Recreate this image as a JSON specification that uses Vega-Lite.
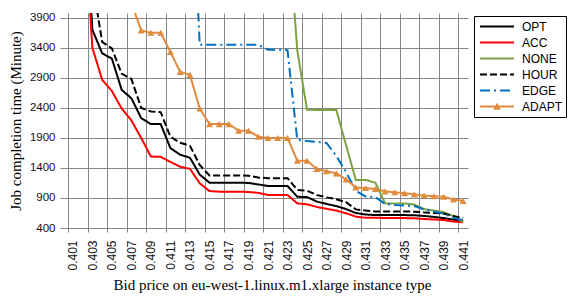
{
  "$schema": "https://vega.github.io/schema/vega-lite/v6.json",
  "width": 400,
  "height": 215,
  "autosize": {"type": "none"},
  "padding": {"left": 68, "top": 13, "right": 108, "bottom": 77},
  "background": "white",
  "config": {"view": {"stroke": null}},
  "data": {"values": [
    {"price":0.401,"series":"OPT","time":10000},{"price":0.402,"series":"OPT","time":6500},{"price":0.403,"series":"OPT","time":3700},{"price":0.404,"series":"OPT","time":3310},{"price":0.405,"series":"OPT","time":3220},{"price":0.406,"series":"OPT","time":2700},{"price":0.407,"series":"OPT","time":2560},{"price":0.408,"series":"OPT","time":2230},{"price":0.409,"series":"OPT","time":2130},{"price":0.410,"series":"OPT","time":2130},{"price":0.411,"series":"OPT","time":1730},{"price":0.412,"series":"OPT","time":1620},{"price":0.413,"series":"OPT","time":1570},{"price":0.414,"series":"OPT","time":1290},{"price":0.415,"series":"OPT","time":1155},{"price":0.416,"series":"OPT","time":1155},{"price":0.417,"series":"OPT","time":1155},{"price":0.418,"series":"OPT","time":1155},{"price":0.419,"series":"OPT","time":1150},{"price":0.420,"series":"OPT","time":1125},{"price":0.421,"series":"OPT","time":1100},{"price":0.422,"series":"OPT","time":1100},{"price":0.423,"series":"OPT","time":1100},{"price":0.424,"series":"OPT","time":920},{"price":0.425,"series":"OPT","time":915},{"price":0.426,"series":"OPT","time":840},{"price":0.427,"series":"OPT","time":800},{"price":0.428,"series":"OPT","time":765},{"price":0.429,"series":"OPT","time":715},{"price":0.430,"series":"OPT","time":650},{"price":0.431,"series":"OPT","time":625},{"price":0.432,"series":"OPT","time":615},{"price":0.433,"series":"OPT","time":615},{"price":0.434,"series":"OPT","time":615},{"price":0.435,"series":"OPT","time":615},{"price":0.436,"series":"OPT","time":612},{"price":0.437,"series":"OPT","time":600},{"price":0.438,"series":"OPT","time":585},{"price":0.439,"series":"OPT","time":565},{"price":0.440,"series":"OPT","time":540},{"price":0.441,"series":"OPT","time":520},
    {"price":0.401,"series":"ACC","time":9000},{"price":0.402,"series":"ACC","time":6000},{"price":0.403,"series":"ACC","time":3400},{"price":0.404,"series":"ACC","time":2870},{"price":0.405,"series":"ACC","time":2680},{"price":0.406,"series":"ACC","time":2390},{"price":0.407,"series":"ACC","time":2190},{"price":0.408,"series":"ACC","time":1900},{"price":0.409,"series":"ACC","time":1590},{"price":0.410,"series":"ACC","time":1585},{"price":0.411,"series":"ACC","time":1500},{"price":0.412,"series":"ACC","time":1420},{"price":0.413,"series":"ACC","time":1385},{"price":0.414,"series":"ACC","time":1145},{"price":0.415,"series":"ACC","time":1015},{"price":0.416,"series":"ACC","time":1005},{"price":0.417,"series":"ACC","time":1005},{"price":0.418,"series":"ACC","time":1005},{"price":0.419,"series":"ACC","time":1000},{"price":0.420,"series":"ACC","time":985},{"price":0.421,"series":"ACC","time":950},{"price":0.422,"series":"ACC","time":950},{"price":0.423,"series":"ACC","time":950},{"price":0.424,"series":"ACC","time":810},{"price":0.425,"series":"ACC","time":795},{"price":0.426,"series":"ACC","time":750},{"price":0.427,"series":"ACC","time":720},{"price":0.428,"series":"ACC","time":690},{"price":0.429,"series":"ACC","time":645},{"price":0.430,"series":"ACC","time":590},{"price":0.431,"series":"ACC","time":570},{"price":0.432,"series":"ACC","time":570},{"price":0.433,"series":"ACC","time":567},{"price":0.434,"series":"ACC","time":567},{"price":0.435,"series":"ACC","time":565},{"price":0.436,"series":"ACC","time":562},{"price":0.437,"series":"ACC","time":550},{"price":0.438,"series":"ACC","time":542},{"price":0.439,"series":"ACC","time":533},{"price":0.440,"series":"ACC","time":508},{"price":0.441,"series":"ACC","time":495},
    {"price":0.423,"series":"NONE","time":5600},{"price":0.424,"series":"NONE","time":3360},{"price":0.425,"series":"NONE","time":2370},{"price":0.426,"series":"NONE","time":2365},{"price":0.427,"series":"NONE","time":2365},{"price":0.428,"series":"NONE","time":2365},{"price":0.429,"series":"NONE","time":1780},{"price":0.430,"series":"NONE","time":1200},{"price":0.431,"series":"NONE","time":1200},{"price":0.432,"series":"NONE","time":1155},{"price":0.433,"series":"NONE","time":810},{"price":0.434,"series":"NONE","time":810},{"price":0.435,"series":"NONE","time":810},{"price":0.436,"series":"NONE","time":790},{"price":0.437,"series":"NONE","time":715},{"price":0.438,"series":"NONE","time":690},{"price":0.439,"series":"NONE","time":665},{"price":0.440,"series":"NONE","time":600},{"price":0.441,"series":"NONE","time":500},
    {"price":0.401,"series":"HOUR","time":11000},{"price":0.402,"series":"HOUR","time":7500},{"price":0.403,"series":"HOUR","time":4500},{"price":0.404,"series":"HOUR","time":3500},{"price":0.405,"series":"HOUR","time":3390},{"price":0.406,"series":"HOUR","time":2970},{"price":0.407,"series":"HOUR","time":2880},{"price":0.408,"series":"HOUR","time":2400},{"price":0.409,"series":"HOUR","time":2340},{"price":0.410,"series":"HOUR","time":2330},{"price":0.411,"series":"HOUR","time":1920},{"price":0.412,"series":"HOUR","time":1820},{"price":0.413,"series":"HOUR","time":1770},{"price":0.414,"series":"HOUR","time":1450},{"price":0.415,"series":"HOUR","time":1275},{"price":0.416,"series":"HOUR","time":1275},{"price":0.417,"series":"HOUR","time":1275},{"price":0.418,"series":"HOUR","time":1275},{"price":0.419,"series":"HOUR","time":1270},{"price":0.420,"series":"HOUR","time":1240},{"price":0.421,"series":"HOUR","time":1230},{"price":0.422,"series":"HOUR","time":1230},{"price":0.423,"series":"HOUR","time":1230},{"price":0.424,"series":"HOUR","time":1035},{"price":0.425,"series":"HOUR","time":1020},{"price":0.426,"series":"HOUR","time":950},{"price":0.427,"series":"HOUR","time":910},{"price":0.428,"series":"HOUR","time":880},{"price":0.429,"series":"HOUR","time":830},{"price":0.430,"series":"HOUR","time":710},{"price":0.431,"series":"HOUR","time":690},{"price":0.432,"series":"HOUR","time":675},{"price":0.433,"series":"HOUR","time":675},{"price":0.434,"series":"HOUR","time":675},{"price":0.435,"series":"HOUR","time":675},{"price":0.436,"series":"HOUR","time":672},{"price":0.437,"series":"HOUR","time":660},{"price":0.438,"series":"HOUR","time":650},{"price":0.439,"series":"HOUR","time":640},{"price":0.440,"series":"HOUR","time":600},{"price":0.441,"series":"HOUR","time":560},
    {"price":0.413,"series":"EDGE","time":7000},{"price":0.414,"series":"EDGE","time":3450},{"price":0.415,"series":"EDGE","time":3450},{"price":0.416,"series":"EDGE","time":3450},{"price":0.417,"series":"EDGE","time":3450},{"price":0.418,"series":"EDGE","time":3450},{"price":0.419,"series":"EDGE","time":3450},{"price":0.420,"series":"EDGE","time":3450},{"price":0.421,"series":"EDGE","time":3370},{"price":0.422,"series":"EDGE","time":3370},{"price":0.423,"series":"EDGE","time":3360},{"price":0.424,"series":"EDGE","time":1870},{"price":0.425,"series":"EDGE","time":1850},{"price":0.426,"series":"EDGE","time":1835},{"price":0.427,"series":"EDGE","time":1815},{"price":0.428,"series":"EDGE","time":1600},{"price":0.429,"series":"EDGE","time":1330},{"price":0.430,"series":"EDGE","time":1020},{"price":0.431,"series":"EDGE","time":925},{"price":0.432,"series":"EDGE","time":915},{"price":0.433,"series":"EDGE","time":800},{"price":0.434,"series":"EDGE","time":785},{"price":0.435,"series":"EDGE","time":775},{"price":0.436,"series":"EDGE","time":765},{"price":0.437,"series":"EDGE","time":710},{"price":0.438,"series":"EDGE","time":675},{"price":0.439,"series":"EDGE","time":640},{"price":0.440,"series":"EDGE","time":570},{"price":0.441,"series":"EDGE","time":530},
    {"price":0.407,"series":"ADAPT","time":4150},{"price":0.408,"series":"ADAPT","time":3690},{"price":0.409,"series":"ADAPT","time":3650},{"price":0.410,"series":"ADAPT","time":3650},{"price":0.411,"series":"ADAPT","time":3330},{"price":0.412,"series":"ADAPT","time":3000},{"price":0.413,"series":"ADAPT","time":2950},{"price":0.414,"series":"ADAPT","time":2390},{"price":0.415,"series":"ADAPT","time":2130},{"price":0.416,"series":"ADAPT","time":2130},{"price":0.417,"series":"ADAPT","time":2130},{"price":0.418,"series":"ADAPT","time":2020},{"price":0.419,"series":"ADAPT","time":2020},{"price":0.420,"series":"ADAPT","time":1920},{"price":0.421,"series":"ADAPT","time":1900},{"price":0.422,"series":"ADAPT","time":1900},{"price":0.423,"series":"ADAPT","time":1900},{"price":0.424,"series":"ADAPT","time":1520},{"price":0.425,"series":"ADAPT","time":1520},{"price":0.426,"series":"ADAPT","time":1385},{"price":0.427,"series":"ADAPT","time":1345},{"price":0.428,"series":"ADAPT","time":1310},{"price":0.429,"series":"ADAPT","time":1210},{"price":0.430,"series":"ADAPT","time":1075},{"price":0.431,"series":"ADAPT","time":1065},{"price":0.432,"series":"ADAPT","time":1050},{"price":0.433,"series":"ADAPT","time":1010},{"price":0.434,"series":"ADAPT","time":995},{"price":0.435,"series":"ADAPT","time":980},{"price":0.436,"series":"ADAPT","time":960},{"price":0.437,"series":"ADAPT","time":940},{"price":0.438,"series":"ADAPT","time":930},{"price":0.439,"series":"ADAPT","time":920},{"price":0.440,"series":"ADAPT","time":875},{"price":0.441,"series":"ADAPT","time":850}
  ]},
  "encoding": {
    "x": {
      "field": "price", "type": "quantitative",
      "scale": {"domain": [0.4005, 0.4415], "nice": false, "zero": false},
      "axis": {
        "values": [0.4005,0.4025,0.4045,0.4065,0.4085,0.4105,0.4125,0.4145,0.4165,0.4185,0.4205,0.4225,0.4245,0.4265,0.4285,0.4305,0.4325,0.4345,0.4365,0.4385,0.4405],
        "labelExpr": "format(datum.value + 0.0005, '.3f')",
        "labelAngle": -90, "labelOffset": 4.9, "labelPadding": 8, "labelFlush": false, "labelOverlap": false,
        "labelFont": "Liberation Sans", "labelFontSize": 12, "labelColor": "#111111",
        "tickSize": 4, "tickColor": "#868686", "domainColor": "#868686", "grid": true, "gridColor": "#868686", "gridWidth": 1,
        "title": "Bid price on eu-west-1.linux.m1.xlarge instance type",
        "titleFont": "Liberation Serif", "titleFontSize": 15, "titleFontWeight": "normal", "titleColor": "#000000", "titlePadding": 7, "titleX": 204
      }
    },
    "y": {
      "field": "time", "type": "quantitative",
      "scale": {"domain": [400, 3980], "nice": false, "zero": false},
      "axis": {
        "values": [400,900,1400,1900,2400,2900,3400,3900], "format": "d",
        "labelFont": "Liberation Sans", "labelFontSize": 11.5, "labelColor": "#111111", "labelPadding": 5, "labelFlush": false,
        "tickSize": 8, "tickColor": "#868686", "domainColor": "#868686", "grid": true, "gridColor": "#868686", "gridWidth": 1,
        "title": "Job completion time (Minute)",
        "titleFont": "Liberation Serif", "titleFontSize": 15, "titleFontWeight": "normal", "titleColor": "#000000", "titlePadding": 6
      }
    }
  },
  "layer": [
    {
      "mark": {"type": "line", "clip": true, "strokeWidth": 2},
      "encoding": {
        "color": {
          "field": "series", "type": "nominal",
          "scale": {"domain": ["OPT","ACC","NONE","HOUR","EDGE","ADAPT"], "range": ["#000000","#FF0000","#7AA43F","#000000","#0070C0","#E08A3C"]},
          "legend": {
            "orient": "none", "legendX": 406, "legendY": 3, "title": null,
            "symbolType": "M-1,0H3", "symbolSize": 289, "symbolStrokeWidth": 2,
            "labelFont": "Liberation Sans", "labelFontSize": 12, "labelColor": "#000000",
            "padding": 3, "symbolOffset": 2, "labelOffset": 24, "clipHeight": 15, "rowPadding": 1,
            "strokeColor": "#000000", "fillColor": "#ffffff",
            "encoding": {"symbols": {
              "shape": {"value": {"expr": "datum.value === 'ADAPT' ? 'M-1,0H3M0.75,0.25L1,-0.2L1.25,0.25Z' : 'M-1,0H3'"}},
              "fill": {"value": "#E08A3C"}
            }}
          }
        },
        "strokeDash": {
          "field": "series", "type": "nominal",
          "scale": {"domain": ["OPT","ACC","NONE","HOUR","EDGE","ADAPT"], "range": [[1,0],[1,0],[1,0],[7,3],[10,4,2,4],[1,0]]}
        }
      }
    },
    {
      "transform": [{"filter": "datum.series === 'ADAPT'"}],
      "mark": {"type": "point", "shape": "triangle-up", "filled": true, "size": 49, "color": "#E08A3C", "opacity": 1, "clip": true}
    }
  ]
}
